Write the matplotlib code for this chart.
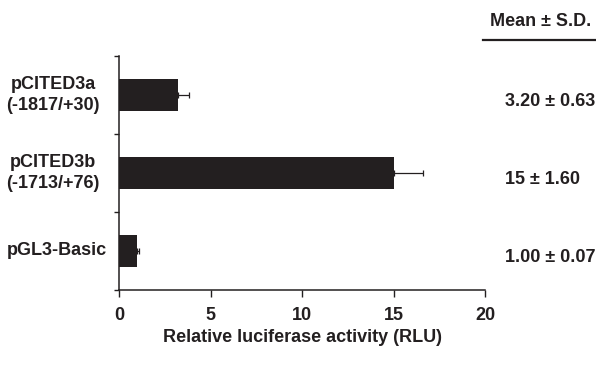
import matplotlib
matplotlib.use('Agg')
import matplotlib.pyplot as plt
import matplotlib.transforms as mtransforms

plt.rcParams['font.family'] = ['Liberation Sans', 'DejaVu Sans']
plt.rcParams['font.weight'] = 'bold'

constructs = ['pCITED3a\n(-1817/+30)', 'pCITED3b\n(-1713/+76)', 'pGL3-Basic']
means = [3.20, 15.0, 1.00]
sds = [0.63, 1.60, 0.07]
summary = ['3.20 ± 0.63', '15 ± 1.60', '1.00 ± 0.07']
xticks = [0, 5, 10, 15, 20]

ypos = [2.5, 1.5, 0.5]
ink = '#231f20'
fs = 13

fig = plt.figure(figsize=(5.96, 3.66), dpi=100)
ax = fig.add_axes([0.1997, 0.2077, 0.6141, 0.6393])

ax.barh(ypos, means, height=0.41, color=ink, zorder=2)
ax.errorbar(means, ypos, xerr=[[0] * len(sds), sds], fmt='none',
            ecolor=ink, elinewidth=0.9, capsize=2.5, capthick=0.9, zorder=1)

ax.set_xlim(0, 20)
ax.set_ylim(0, 3)
ax.set_xticks(xticks)
ax.set_xticklabels([str(t) for t in xticks], fontsize=fs, fontweight='bold')
ax.set_yticks([0, 1, 2, 3])
ax.set_yticklabels([])

ax.tick_params(axis='x', direction='out', length=5, width=1, pad=7, colors=ink, labelcolor=ink)
ax.tick_params(axis='y', direction='out', length=3.6, width=1, colors=ink)

for s in ['top', 'right']:
    ax.spines[s].set_visible(False)
for s in ['left', 'bottom']:
    ax.spines[s].set_linewidth(1.1)
    ax.spines[s].set_color(ink)

ax.set_xlabel('Relative luciferase activity (RLU)', fontsize=fs, fontweight='bold',
              color=ink, labelpad=4)

# category labels, left aligned blocks with centred lines
ltrans = mtransforms.blended_transform_factory(fig.transFigure, ax.transData)
for y, name in zip(ypos, constructs):
    ax.text(0.011, y, name, transform=ltrans, ha='left', va='center',
            multialignment='center', fontsize=fs, fontweight='bold', color=ink,
            linespacing=1.25, clip_on=False)

# summary column on the right
for y, s in zip(ypos, summary):
    ax.text(0.847, y - 0.08, s, transform=ltrans, ha='left', va='center',
            fontsize=fs, fontweight='bold', color=ink, clip_on=False)

fig.text(0.907, 0.940, 'Mean ± S.D.', ha='center', va='center', fontsize=fs,
         fontweight='bold', color=ink)
fig.add_artist(plt.Line2D([0.810, 1.0], [0.892, 0.892], transform=fig.transFigure,
                          color=ink, linewidth=1.6))

fig.savefig('out.png', dpi=100)
